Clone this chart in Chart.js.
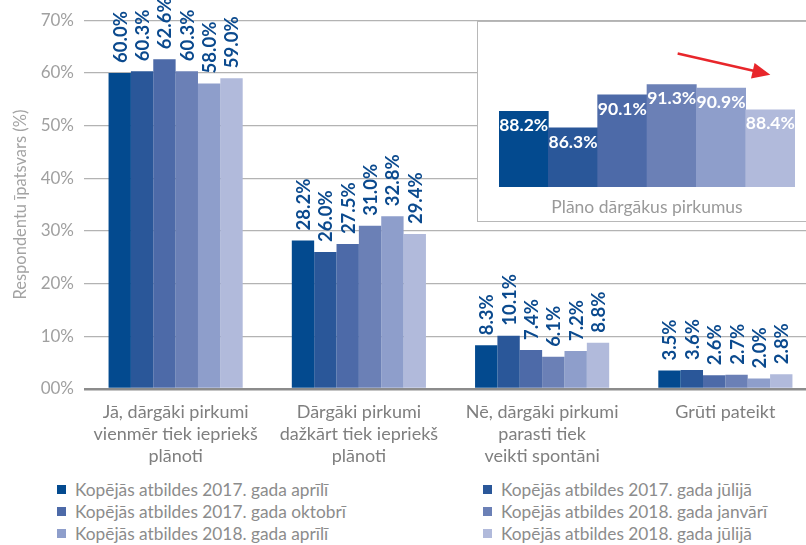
<!DOCTYPE html>
<html>
<head>
<meta charset="utf-8">
<script src="https://cdn.jsdelivr.net/npm/chart.js@4/dist/chart.umd.min.js"></script>
<style>
  body { margin: 0; width: 806px; height: 545px; overflow: hidden; background: #fff; font-family: Lato, "Open Sans", sans-serif; }
  #wrap { position: relative; width: 806px; height: 545px; }
  #mainChart { position: absolute; left: 0; top: 0; }
  #inset { position: absolute; left: 477px; top: 21px; width: 340px; height: 201px; box-sizing: border-box; border: 1px solid #b8b8b8; background: #fff; }
  #insetChart { position: absolute; left: 0; top: 0; }
  #legend { position: absolute; left: 57px; top: 478px; width: 760px; display: grid; grid-template-columns: 426px 330px; row-gap: 0; }
  .item { display: flex; align-items: center; height: 22px; font-size: 17.3px; color: #8c8c8c; white-space: nowrap; }
  .sw { width: 9px; height: 9px; margin-right: 9px; flex: none; }
</style>
</head>
<body>
<div id="wrap">
  <canvas id="mainChart" width="817" height="476"></canvas>
  <div id="inset"><canvas id="insetChart" width="338" height="199"></canvas></div>
  <div id="legend"></div>
</div>
<script>
// Categories (x axis, multi-line labels)
const categories = [
    ['Jā, dārgāki pirkumi', 'vienmēr tiek iepriekš', 'plānoti'],
    ['Dārgāki pirkumi', 'dažkārt tiek iepriekš', 'plānoti'],
    ['Nē, dārgāki pirkumi', 'parasti tiek', 'veikti spontāni'],
    ['Grūti pateikt']
];

// Survey waves
const seriesNames = [
    'Kopējās atbildes 2017. gada aprīlī',
    'Kopējās atbildes 2017. gada jūlijā',
    'Kopējās atbildes 2017. gada oktobrī',
    'Kopējās atbildes 2018. gada janvārī',
    'Kopējās atbildes 2018. gada aprīlī',
    'Kopējās atbildes 2018. gada jūlijā'
];

// Values per wave (%)
const apr2017 = [60.0, 28.2, 8.3, 3.5];
const jul2017 = [60.3, 26.0, 10.1, 3.6];
const okt2017 = [62.6, 27.5, 7.4, 2.6];
const jan2018 = [60.3, 31.0, 6.1, 2.7];
const apr2018 = [58.0, 32.8, 7.2, 2.0];
const jul2018 = [59.0, 29.4, 8.8, 2.8];

// Inset: plan expensive purchases (%)
const insetTitle = 'Plāno dārgākus pirkumus';
const planned = [88.2, 86.3, 90.1, 91.3, 90.9, 88.4];

// Y axis ticks
const yMin = 0;
const yMax = 70;
const yStep = 10;
const yTitle = 'Respondentu īpatsvars (%)';

const colors = ['#034a8f', '#2a5799', '#4d6aa8', '#6b80b6', '#8e9ecb', '#b1badb'];
const FONT = 'Lato, "Open Sans", sans-serif';

// Build HTML legend (two columns, row-major)
const legendEl = document.getElementById('legend');
seriesNames.forEach((name, i) => {
    const item = document.createElement('div');
    item.className = 'item';
    item.innerHTML = '<span class="sw" style="background:' + colors[i] + '"></span>' + name;
    legendEl.appendChild(item);
});

// Value labels drawn above bars (rotated) or inside bars
const valueLabels = {
    id: 'valueLabels',
    afterDatasetsDraw(chart, args, opts) {
        const ctx = chart.ctx;
        ctx.save();
        chart.data.datasets.forEach((ds, di) => {
            const meta = chart.getDatasetMeta(di);
            meta.data.forEach((bar, i) => {
                const text = ds.data[i].toFixed(1) + '%';
                ctx.font = opts.font;
                ctx.fillStyle = opts.color;
                if (opts.rotated) {
                    ctx.save();
                    ctx.translate(bar.x, bar.y - 10);
                    ctx.rotate(-Math.PI / 2);
                    ctx.textAlign = 'left';
                    ctx.textBaseline = 'middle';
                    ctx.fillText(text, 0, 1);
                    ctx.restore();
                } else {
                    ctx.textAlign = 'center';
                    ctx.textBaseline = 'middle';
                    ctx.fillText(text, bar.x, bar.y + 14);
                }
            });
        });
        ctx.restore();
    }
};

// Red trend arrow in the inset
const trendArrow = {
    id: 'trendArrow',
    afterDatasetsDraw(chart) {
        const bars = chart.getDatasetMeta(0).data;
        const from = bars[3], to = bars[5];
        const x1 = from.x + 6, y1 = from.y - 31;
        const x2 = to.x, y2 = to.y - 35;
        const ang = Math.atan2(y2 - y1, x2 - x1);
        const ctx = chart.ctx;
        ctx.save();
        ctx.strokeStyle = '#e8262b';
        ctx.fillStyle = '#e8262b';
        ctx.lineWidth = 2.5;
        ctx.beginPath();
        ctx.moveTo(x1, y1);
        ctx.lineTo(x2 - 14 * Math.cos(ang), y2 - 14 * Math.sin(ang));
        ctx.stroke();
        ctx.beginPath();
        ctx.moveTo(x2, y2);
        ctx.lineTo(x2 - 18 * Math.cos(ang) + 8 * Math.sin(ang), y2 - 18 * Math.sin(ang) - 8 * Math.cos(ang));
        ctx.lineTo(x2 - 18 * Math.cos(ang) - 8 * Math.sin(ang), y2 - 18 * Math.sin(ang) + 8 * Math.cos(ang));
        ctx.closePath();
        ctx.fill();
        ctx.restore();
    }
};

const seriesValues = [apr2017, jul2017, okt2017, jan2018, apr2018, jul2018];

new Chart(document.getElementById('mainChart').getContext('2d'), {
    type: 'bar',
    data: {
        labels: categories,
        datasets: seriesValues.map((vals, i) => ({
            label: seriesNames[i],
            data: vals,
            backgroundColor: colors[i],
            borderWidth: 0,
            categoryPercentage: 0.732,
            barPercentage: 1
        }))
    },
    options: {
        responsive: false,
        animation: false,
        layout: { padding: { top: 20, right: 0, bottom: 0, left: 0 } },
        plugins: {
            legend: { display: false },
            tooltip: { enabled: false },
            valueLabels: { rotated: true, font: 'bold 18.5px ' + FONT, color: '#0b4a8e' }
        },
        scales: {
            x: {
                grid: { display: false },
                border: { display: false },
                ticks: { font: { family: FONT, size: 18, lineHeight: 1.22 }, color: '#7f7f7f', padding: 4, maxRotation: 0, autoSkip: false },
                afterFit: s => { s.height = 87; }
            },
            y: {
                min: yMin,
                max: yMax,
                ticks: {
                    stepSize: yStep,
                    font: { family: FONT, size: 17 },
                    color: '#a0a0a0',
                    padding: 10,
                    callback: v => (v === 0 ? '00' : v) + '%'
                },
                grid: {
                    drawTicks: false,
                    color: c => c.tick && c.tick.value === 0 ? '#8c8c8c' : '#b3b3b3',
                    lineWidth: c => c.tick && c.tick.value === 0 ? 2.5 : 1.2
                },
                border: { display: false },
                title: { display: true, text: yTitle, font: { family: FONT, size: 16.5 }, color: '#a3a3a3', padding: { top: 11, bottom: 0 } },
                afterFit: s => { s.width = 84; }
            }
        }
    },
    plugins: [valueLabels]
});

new Chart(document.getElementById('insetChart').getContext('2d'), {
    type: 'bar',
    data: {
        labels: seriesNames,
        datasets: [{
            data: planned,
            backgroundColor: colors,
            borderWidth: 0,
            categoryPercentage: 1,
            barPercentage: 1
        }]
    },
    options: {
        responsive: false,
        animation: false,
        layout: { padding: { top: 0, right: 21, bottom: 0, left: 21 } },
        plugins: {
            legend: { display: false },
            tooltip: { enabled: false },
            valueLabels: { rotated: false, font: 'bold 17.5px ' + FONT, color: '#ffffff' }
        },
        scales: {
            x: {
                grid: { display: false },
                border: { display: false },
                ticks: { display: false },
                title: { display: true, text: insetTitle, font: { family: FONT, size: 17.5 }, color: '#9a9a9a', padding: { top: 0, bottom: 3 } },
                afterFit: s => { s.height = 34; }
            },
            y: {
                display: false,
                min: 79.5,
                max: 98.5
            }
        }
    },
    plugins: [valueLabels, trendArrow]
});
</script>
</body>
</html>
